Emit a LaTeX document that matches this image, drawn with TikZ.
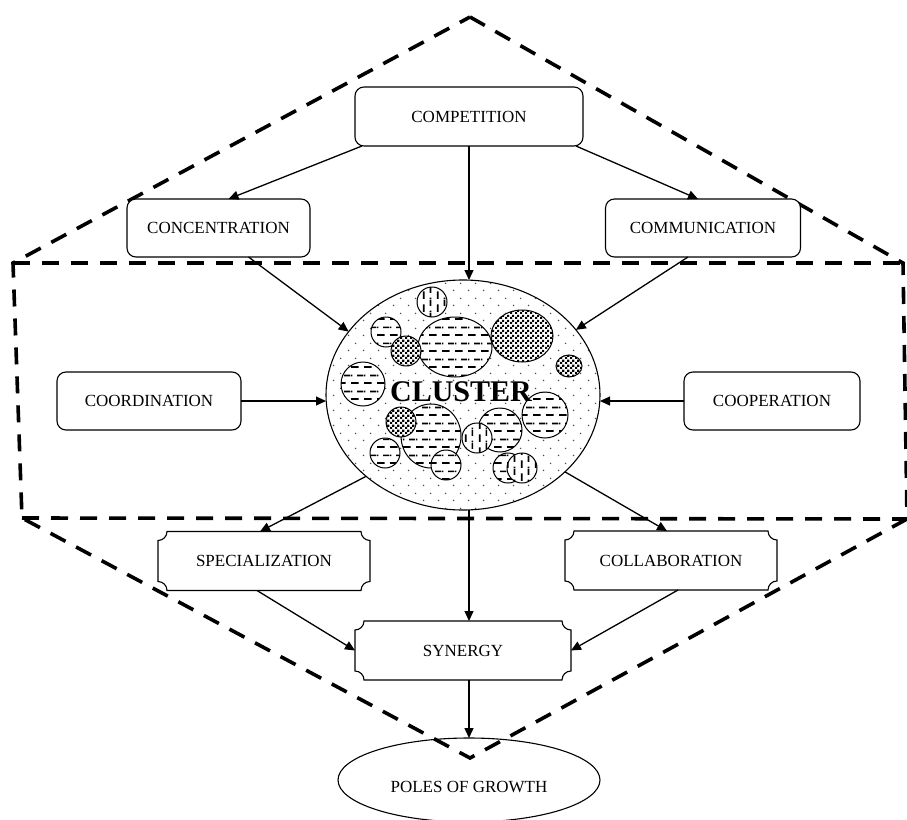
\documentclass[tikz,border=0pt]{standalone}
\usepackage{fontspec}
\setmainfont{Liberation Serif}
\usetikzlibrary{shapes.geometric,arrows.meta,patterns.meta}

% fill patterns for the cluster and its members
\pgfdeclarepattern{
  name=clusterdots, type=uncolored,
  bottom left={\pgfpoint{0pt}{0pt}}, top right={\pgfpoint{15pt}{15pt}},
  tile size={\pgfpoint{15pt}{15pt}},
  code={
    \pgfpathcircle{\pgfpoint{3.75pt}{3.75pt}}{0.85pt}
    \pgfpathcircle{\pgfpoint{11.25pt}{11.25pt}}{0.85pt}
    \pgfusepath{fill}
  }
}
\pgfdeclarepattern{
  name=hdash, type=uncolored,
  bottom left={\pgfpoint{0pt}{0pt}}, top right={\pgfpoint{13pt}{16pt}},
  tile size={\pgfpoint{13pt}{16pt}},
  code={
    \pgfpathrectangle{\pgfpoint{0pt}{3.2pt}}{\pgfpoint{8pt}{1.8pt}}
    \pgfpathrectangle{\pgfpoint{6.5pt}{11.2pt}}{\pgfpoint{6.5pt}{1.8pt}}
    \pgfpathrectangle{\pgfpoint{0pt}{11.2pt}}{\pgfpoint{1.5pt}{1.8pt}}
    \pgfusepath{fill}
  }
}
\pgfdeclarepattern{
  name=vdash, type=uncolored,
  bottom left={\pgfpoint{0pt}{0pt}}, top right={\pgfpoint{14pt}{13pt}},
  tile size={\pgfpoint{14pt}{13pt}},
  code={
    \pgfpathrectangle{\pgfpoint{3pt}{0pt}}{\pgfpoint{1.8pt}{8pt}}
    \pgfpathrectangle{\pgfpoint{10pt}{6.5pt}}{\pgfpoint{1.8pt}{6.5pt}}
    \pgfpathrectangle{\pgfpoint{10pt}{0pt}}{\pgfpoint{1.8pt}{1.5pt}}
    \pgfusepath{fill}
  }
}
\pgfdeclarepattern{
  name=checker, type=uncolored,
  bottom left={\pgfpoint{0pt}{0pt}}, top right={\pgfpoint{5pt}{5pt}},
  tile size={\pgfpoint{5pt}{5pt}},
  code={
    \pgfpathrectangle{\pgfpoint{0pt}{0pt}}{\pgfpoint{2.5pt}{2.5pt}}
    \pgfpathrectangle{\pgfpoint{2.5pt}{2.5pt}}{\pgfpoint{2.5pt}{2.5pt}}
    \pgfusepath{fill}
  }
}

% box with concave (notched) corners around a named node
\newcommand{\plaqueoutline}[1]{%
  \draw[line width=1.1pt, fill=white]
    ([xshift=9pt]#1.north west) -- ([xshift=-9pt]#1.north east)
    arc[start angle=180,end angle=270,radius=9pt] -- ([yshift=9pt]#1.south east)
    arc[start angle=90,end angle=180,radius=9pt] -- ([xshift=9pt]#1.south west)
    arc[start angle=0,end angle=90,radius=9pt] -- ([yshift=-9pt]#1.north west)
    arc[start angle=-90,end angle=0,radius=9pt] -- cycle;}

\tikzset{
  lbl/.style={font=\fontsize{17}{20}\selectfont},
  rbox/.style={lbl, draw, rounded corners=9pt, line width=1.1pt, fill=white,
    minimum height=58pt, inner sep=0pt, outer sep=0pt},
  pbox/.style={lbl, minimum height=59pt, inner sep=0pt, outer sep=0pt},
  conn/.style={line width=1.3pt, -{Triangle[length=10pt,width=9pt]}},
  outline/.style={line width=3.6pt, dash pattern=on 17pt off 12pt},
  blob/.style={draw, line width=1pt, preaction={fill=white}},
  hblob/.style={blob, pattern=hdash},
  vblob/.style={blob, pattern=vdash},
  cblob/.style={blob, pattern=checker},
}

\begin{document}
\begin{tikzpicture}[x=1pt,y=1pt]
\useasboundingbox (0,0) rectangle (907,-819);

% dashed hexagon with its middle band
\coordinate (hA) at (470,-17);
\coordinate (hB) at (903,-263);
\coordinate (hC) at (907,-519);
\coordinate (hD) at (470,-758);
\coordinate (hE) at (22,-518);
\coordinate (hF) at (13,-263);
\draw[outline] (hA) -- (hB) -- (hC) -- (hD) -- (hE) -- (hF) -- cycle;
\draw[outline] (hF) -- (hB);
\draw[outline] (hE) -- (hC);

% rounded boxes
\node[rbox, minimum width=228pt, minimum height=59pt] (comp) at (469,-116.5) {COMPETITION};
\node[rbox, minimum width=183pt] (conc) at (218.5,-228) {CONCENTRATION};
\node[rbox, minimum width=195pt] (comm) at (703,-228) {COMMUNICATION};
\node[rbox, minimum width=184pt] (coord) at (149,-401) {COORDINATION};
\node[rbox, minimum width=176pt] (coop) at (772,-401) {COOPERATION};

% notched boxes
\node[pbox, minimum width=212pt] (spec) at (264,-561) {};
\node[pbox, minimum width=212pt] (collab) at (671,-560.5) {};
\node[pbox, minimum width=216pt] (syn) at (463,-650.5) {};
\plaqueoutline{spec}
\plaqueoutline{collab}
\plaqueoutline{syn}
\node[lbl] (specl) at (spec) {SPECIALIZATION};
\node[lbl] (collabl) at (collab) {COLLABORATION};
\node[lbl] (synl) at (syn) {SYNERGY};

% final ellipse
\node[lbl, draw, ellipse, line width=1.1pt, minimum width=262pt, minimum height=84pt,
  inner sep=0pt, outer sep=0pt] (poles) at (469,-780) {};
\node[lbl] (polesl) at (469,-787) {POLES OF GROWTH};

% the cluster
\node[draw, ellipse, line width=1.1pt, minimum width=274pt, minimum height=230pt,
  inner sep=0pt, outer sep=0pt, preaction={fill=white}, pattern=clusterdots,
  pattern color=black!70] (cl) at (463,-395) {};
\draw[vblob] (432,-302) circle[radius=15];
\draw[hblob] (386,-332) circle[radius=15];
\draw[hblob] (455,-347) ellipse[x radius=37, y radius=30];
\draw[cblob] (406,-351) circle[radius=15];
\draw[cblob] (522,-336) ellipse[x radius=31, y radius=26];
\draw[cblob] (569,-366) ellipse[x radius=13, y radius=11];
\draw[hblob] (363,-384) circle[radius=22];
\draw[hblob] (431,-436) ellipse[x radius=30, y radius=32];
\draw[cblob] (401,-422) circle[radius=15];
\draw[hblob] (385,-453) circle[radius=15];
\draw[hblob] (446,-465) circle[radius=15];
\draw[hblob] (500,-430) circle[radius=22];
\draw[hblob] (545,-415) circle[radius=23];
\draw[vblob] (477,-438) circle[radius=15];
\draw[hblob] (508,-468) circle[radius=15];
\draw[vblob] (522,-468) circle[radius=15];
\node[font=\fontsize{30}{34}\selectfont\bfseries] (cltext) at (461,-392) {CLUSTER};

% connectors
\draw[conn] ([xshift=7pt]comp.south west) -- ([xshift=10pt]conc.north);
\draw[conn] (comp.south) -- (comp.south |- cl.north);
\draw[conn] ([xshift=-7pt]comp.south east) -- ([xshift=-5pt]comm.north);
\draw[conn] ([xshift=30pt]conc.south) -- (cl.151);
\draw[conn] ([xshift=-15pt]comm.south) -- (cl.30);
\draw[conn] (coord.east) -- (coord.east -| cl.west);
\draw[conn] (coop.west) -- (coop.west -| cl.east);
\draw[conn] (cl.220) -- ([xshift=-4pt]spec.north);
\draw[conn] (cl.323) -- ([xshift=-4pt]collab.north);
\draw[conn] (cl.south -| comp.south) -- (syn.north -| comp.south);
\draw[conn] ([xshift=-7pt]spec.south) -- (syn.west);
\draw[conn] ([xshift=7pt]collab.south) -- (syn.east);
\draw[conn] (syn.south -| comp.south) -- (poles.north);
\end{tikzpicture}
\end{document}
